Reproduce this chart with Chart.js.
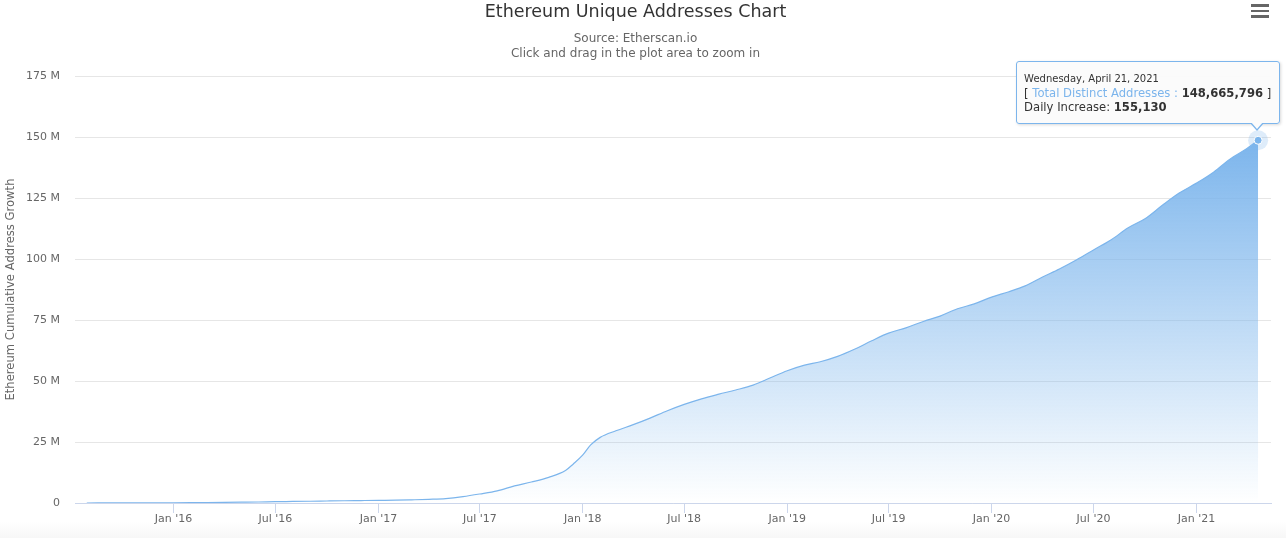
<!DOCTYPE html>
<html>
<head>
<meta charset="utf-8">
<title>Ethereum Unique Addresses Chart</title>
<script src="https://cdn.jsdelivr.net/npm/chart.js@4.4.1/dist/chart.umd.min.js"></script>
<style>
    body { margin: 0; background: #fff; font-family: "DejaVu Sans", Verdana, sans-serif; }
    #wrap { position: relative; width: 1286px; height: 538px; overflow: hidden;
            background: linear-gradient(to bottom, #fff 0, #fff 522px, #f7f7f7 538px); }
    #menu { position: absolute; left: 1251px; top: 4px; width: 18px; }
    #menu div { height: 2.5px; background: #666; margin-bottom: 3px; }
    #tooltip {
        position: absolute; opacity: 0; pointer-events: none; white-space: nowrap;
        background: rgba(251, 251, 251, 0.95); border: 1px solid #7cb5ec; border-radius: 3px;
        box-shadow: 1px 1px 3px rgba(0, 0, 0, 0.15);
        padding: 0 8px 0 7px; color: #333; font-size: 11.6px; line-height: 14px;
    }
    #tooltip .ttl { font-size: 10px; line-height: 15px; padding-top: 9px; }
    #tooltip .row2 { padding-bottom: 9px; }
    #tooltip .lbl { color: #7cb5ec; }
    #tooltip b { font-weight: bold; }
    #tooltip::before, #tooltip::after {
        content: ""; position: absolute; width: 0; height: 0;
        border-left: 7px solid transparent; border-right: 7px solid transparent;
    }
    #tooltip::before { right: 15px; bottom: -8px; border-top: 8px solid #7cb5ec; }
    #tooltip::after { right: 16px; bottom: -6px; border-left-width: 6px; border-right-width: 6px; border-top: 7px solid rgb(251, 251, 251); }
</style>
</head>
<body>
<div id="wrap">
    <canvas id="addressChart" width="1286" height="538"></canvas>
    <div id="menu"><div></div><div></div><div></div></div>
    <div id="tooltip"></div>
</div>
<script>
// Cumulative distinct addresses (millions)
const dates = [
    '2015-07-30', '2015-09-01', '2015-10-01', '2015-11-01', '2015-12-01',
    '2016-01-01', '2016-02-01', '2016-03-01', '2016-04-01', '2016-05-01', '2016-06-01',
    '2016-07-01', '2016-08-01', '2016-09-01', '2016-10-01', '2016-11-01', '2016-12-01',
    '2017-01-01', '2017-02-01', '2017-03-01', '2017-04-01', '2017-05-01', '2017-06-01',
    '2017-07-01', '2017-08-01', '2017-09-01', '2017-10-01', '2017-11-01', '2017-12-01',
    '2017-12-15', '2018-01-01', '2018-01-15', '2018-02-01', '2018-03-01', '2018-04-01',
    '2018-05-01', '2018-06-01', '2018-07-01', '2018-08-01', '2018-09-01', '2018-10-01',
    '2018-11-01', '2018-12-01', '2019-01-01', '2019-02-01', '2019-03-01', '2019-04-01',
    '2019-05-01', '2019-06-01', '2019-07-01', '2019-08-01', '2019-09-01', '2019-10-01',
    '2019-11-01', '2019-12-01', '2020-01-01', '2020-02-01', '2020-03-01', '2020-04-01',
    '2020-05-01', '2020-06-01', '2020-07-01', '2020-08-01', '2020-09-01', '2020-10-01',
    '2020-11-01', '2020-12-01', '2021-01-01', '2021-02-01', '2021-03-01', '2021-04-01',
    '2021-04-21'
];
const totalAddressesM = [
    0.00, 0.02, 0.04, 0.06, 0.08,
    0.10, 0.13, 0.18, 0.25, 0.33, 0.42,
    0.55, 0.63, 0.72, 0.82, 0.92, 1.00,
    1.08, 1.15, 1.30, 1.50, 1.80, 2.60,
    3.70, 5.00, 7.00, 8.60, 10.5, 13.3,
    16.0, 19.7, 23.8, 26.9, 29.6, 32.1,
    34.8, 37.8, 40.4, 42.7, 44.6, 46.3,
    48.3, 51.2, 54.2, 56.5, 57.9, 60.1,
    63.0, 66.5, 69.6, 71.8, 74.4, 76.6,
    79.6, 81.6, 84.4, 86.6, 89.0, 92.6,
    95.9, 99.7, 103.7, 107.8, 112.8, 116.5,
    122.0, 127.0, 131.1, 135.7, 140.8, 145.3,
    148.665796
];
const lastDailyIncrease = 155130;

const xTickDates = ['2016-01-01', '2016-07-01', '2017-01-01', '2017-07-01', '2018-01-01', '2018-07-01',
    '2019-01-01', '2019-07-01', '2020-01-01', '2020-07-01', '2021-01-01'];
const xTickLabels = ["Jan '16", "Jul '16", "Jan '17", "Jul '17", "Jan '18", "Jul '18",
    "Jan '19", "Jul '19", "Jan '20", "Jul '20", "Jan '21"];
const yTickLabels = ['0', '25 M', '50 M', '75 M', '100 M', '125 M', '150 M', '175 M'];

const xMin = Date.UTC(2015, 6, 9);
const xMax = Date.UTC(2021, 4, 14);

document.addEventListener("DOMContentLoaded", () => {
    const ctx = document.getElementById("addressChart").getContext("2d");
    const tooltipEl = document.getElementById("tooltip");
    const points = dates.map((d, i) => ({ x: Date.parse(d), y: Math.round(totalAddressesM[i] * 1e6) }));
    const lastIndex = points.length - 1;
    const font = "'DejaVu Sans', Verdana, sans-serif";

    // Fill fades from the series' top value down to the x axis
    function areaGradient(context) {
        const chart = context.chart;
        const { chartArea, scales } = chart;
        if (!chartArea) return 'rgba(124,181,236,0.5)';
        const top = scales.y.getPixelForValue(points[lastIndex].y);
        const g = chart.ctx.createLinearGradient(0, top, 0, chartArea.bottom);
        g.addColorStop(0, 'rgba(124,181,236,1)');
        g.addColorStop(1, 'rgba(124,181,236,0)');
        return g;
    }

    // Halo + marker on the hovered point
    const haloPlugin = {
        id: 'halo',
        afterDatasetsDraw(chart) {
            const active = chart.tooltip.getActiveElements();
            if (!active.length) return;
            const el = chart.getDatasetMeta(0).data[active[0].index];
            const c = chart.ctx;
            c.save();
            c.beginPath();
            c.arc(el.x, el.y, 10, 0, Math.PI * 2);
            c.fillStyle = 'rgba(124,181,236,0.25)';
            c.fill();
            c.beginPath();
            c.arc(el.x, el.y, 4, 0, Math.PI * 2);
            c.fillStyle = '#7cb5ec';
            c.fill();
            c.lineWidth = 1;
            c.strokeStyle = '#fff';
            c.stroke();
            c.restore();
        }
    };

    function externalTooltip(context) {
        const t = context.tooltip;
        if (t.opacity === 0) {
            tooltipEl.style.opacity = 0;
            return;
        }
        const i = t.dataPoints[0].dataIndex;
        const day = new Date(points[i].x).toLocaleDateString('en-US',
            { weekday: 'long', year: 'numeric', month: 'long', day: 'numeric', timeZone: 'UTC' });
        const inc = i === lastIndex ? lastDailyIncrease : points[i].y - points[Math.max(i - 1, 0)].y;
        tooltipEl.innerHTML = `
            <div class="ttl">${day}</div>
            <div>[ <span class="lbl">Total Distinct Addresses :</span> <b>${points[i].y.toLocaleString('en-US')}</b> ]</div>
            <div class="row2">Daily Increase: <b>${inc.toLocaleString('en-US')}</b></div>
        `;
        tooltipEl.style.opacity = 1;
        tooltipEl.style.left = (t.caretX + 22 - tooltipEl.offsetWidth) + 'px';
        tooltipEl.style.top = (t.caretY - 16 - tooltipEl.offsetHeight) + 'px';
    }

    const chart = new Chart(ctx, {
        type: 'line',
        data: {
            datasets: [{
                label: 'Total Distinct Addresses',
                data: points,
                borderColor: '#7cb5ec',
                borderWidth: 1.2,
                backgroundColor: areaGradient,
                fill: 'origin',
                pointRadius: 0,
                pointHoverRadius: 0,
                cubicInterpolationMode: 'monotone'
            }]
        },
        options: {
            responsive: false,
            animation: false,
            events: [],
            layout: { padding: { left: 0, right: 15, top: 0, bottom: 0 } },
            plugins: {
                legend: { display: false },
                title: {
                    display: true,
                    text: 'Ethereum Unique Addresses Chart',
                    color: '#333',
                    font: { family: font, size: 17.5, weight: 'normal', lineHeight: 1.2 },
                    padding: { top: 2, bottom: 8 }
                },
                subtitle: {
                    display: true,
                    text: ['Source: Etherscan.io', 'Click and drag in the plot area to zoom in'],
                    color: '#666',
                    font: { family: font, size: 12, lineHeight: 1.25 },
                    padding: { top: 0, bottom: 15 }
                },
                tooltip: { enabled: false, external: externalTooltip }
            },
            scales: {
                x: {
                    type: 'linear',
                    min: xMin,
                    max: xMax,
                    afterFit: (scale) => { scale.height = 35; },
                    afterBuildTicks: (scale) => {
                        scale.ticks = xTickDates.map(d => ({ value: Date.parse(d) }));
                    },
                    grid: { drawOnChartArea: false, drawTicks: true, tickLength: 10, color: '#ccd6eb' },
                    border: { color: '#ccd6eb' },
                    ticks: {
                        autoSkip: false, maxRotation: 0, padding: 0, color: '#666',
                        font: { family: font, size: 11 },
                        callback: (v, i) => xTickLabels[i]
                    }
                },
                y: {
                    min: 0,
                    max: 175e6,
                    afterFit: (scale) => { scale.width = 75; },
                    grid: { color: '#e6e6e6', drawTicks: false },
                    border: { display: false },
                    ticks: {
                        stepSize: 25e6, padding: 15, color: '#666',
                        font: { family: font, size: 11 },
                        callback: (v, i) => yTickLabels[i]
                    },
                    title: {
                        display: true,
                        text: 'Ethereum Cumulative Address Growth',
                        color: '#666',
                        font: { family: font, size: 11.6 },
                        padding: { top: 4, bottom: 4 }
                    }
                }
            }
        },
        plugins: [haloPlugin]
    });

    // Show the tooltip on the latest point, as in the reference
    const lastEl = chart.getDatasetMeta(0).data[lastIndex];
    chart.tooltip.setActiveElements([{ datasetIndex: 0, index: lastIndex }], { x: lastEl.x, y: lastEl.y });
    chart.update();
});
</script>
</body>
</html>
